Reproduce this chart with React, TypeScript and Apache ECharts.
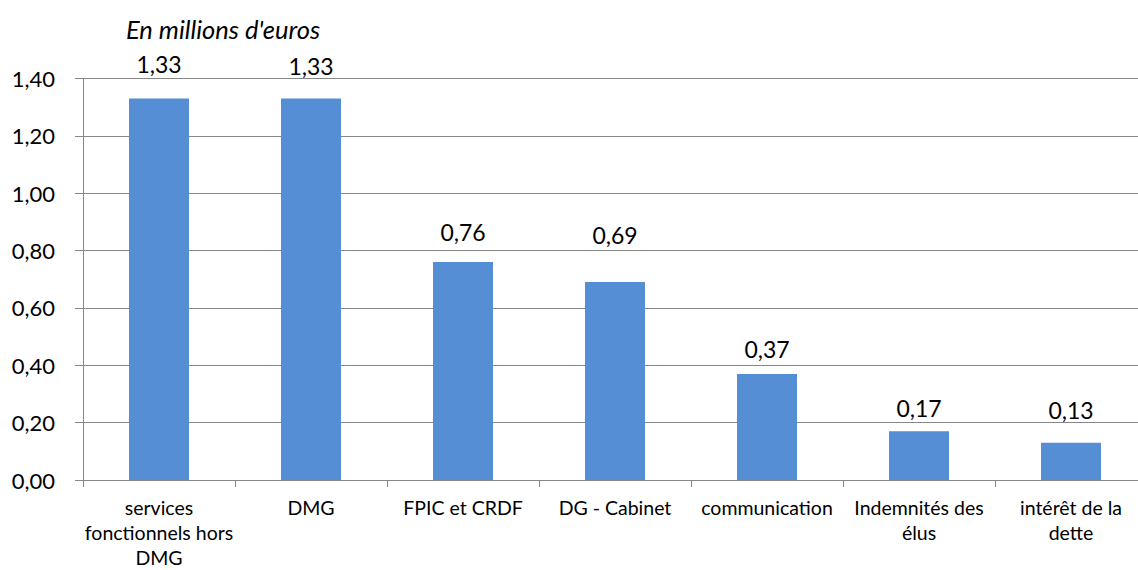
import React, { useEffect, useRef } from "react";
import * as echarts from "echarts";

// Dépenses par poste, en millions d'euros
const categories = [
  "services\nfonctionnels hors\nDMG",
  "DMG",
  "FPIC et CRDF",
  "DG - Cabinet",
  "communication",
  "Indemnités des\nélus",
  "intérêt de la\ndette",
];
const values = [1.33, 1.33, 0.76, 0.69, 0.37, 0.17, 0.13];
// how far above each bar top its value label sits (label centre, px)
const labelLift = [35, 32.5, 30, 47, 25, 23.7, 32.7];

const FONT = "Lato, 'Open Sans', sans-serif";
const GRID = "#868686";
const BAR = "#558ED5";
const LABEL_LH = 26;

const fmt = (v: number) => v.toFixed(2).replace(".", ",");

export default function App() {
  const ref = useRef<HTMLDivElement>(null);

  useEffect(() => {
    if (!ref.current) return;
    const chart = echarts.init(ref.current, null, { renderer: "svg" });
    chart.setOption({
      animation: false,
      backgroundColor: "#ffffff",
      textStyle: { fontFamily: FONT, color: "#000" },
      graphic: [
        {
          type: "text",
          x: 126,
          y: 29,
          style: {
            text: "En millions d'euros",
            fontFamily: FONT,
            fontStyle: "italic",
            fontSize: 25.5,
            fill: "#000",
            verticalAlign: "middle",
            align: "left",
          },
        },
      ],
      grid: { left: 83, right: 0, top: 78.5, bottom: 84.5, containLabel: false },
      xAxis: {
        type: "category",
        data: categories,
        boundaryGap: true,
        axisLine: { show: true, lineStyle: { color: GRID, width: 1 } },
        axisTick: { show: true, length: 7, alignWithLabel: false, lineStyle: { color: GRID } },
        axisLabel: {
          interval: 0,
          margin: 15,
          color: "#000",
          fontFamily: FONT,
          fontSize: 19.5,
          lineHeight: 25,
          align: "center",
        },
      },
      yAxis: {
        type: "value",
        min: 0,
        max: 1.4,
        interval: 0.2,
        axisLine: { show: true, lineStyle: { color: GRID, width: 1 } },
        axisTick: { show: true, length: 8, lineStyle: { color: GRID } },
        splitLine: { show: true, lineStyle: { color: GRID, width: 1.2 } },
        axisLabel: {
          margin: 28,
          color: "#000",
          fontFamily: FONT,
          fontSize: 22,
          formatter: (v: number) => fmt(v),
        },
      },
      series: [
        {
          type: "bar",
          barWidth: 60,
          itemStyle: { color: BAR },
          data: values.map((v, i) => ({
            value: v,
            label: {
              show: true,
              position: "top",
              distance: labelLift[i] - LABEL_LH / 2,
              formatter: () => fmt(v),
              color: "#000",
              fontFamily: FONT,
              fontSize: 23,
              lineHeight: LABEL_LH,
            },
          })),
        },
      ],
    });
    return () => chart.dispose();
  }, []);

  return (
    <div
      ref={ref}
      style={{
        position: "fixed",
        left: 0,
        top: 0,
        width: 1147,
        height: 570,
        background: "#fff",
      }}
    />
  );
}
